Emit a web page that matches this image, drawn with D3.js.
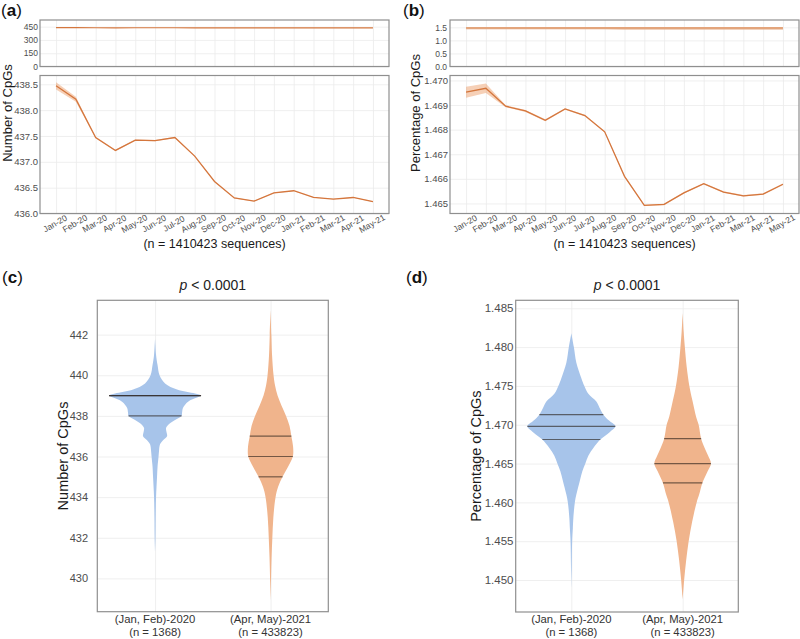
<!DOCTYPE html>
<html><head><meta charset="utf-8">
<script src="https://cdn.jsdelivr.net/npm/d3@7"></script>
<style>
body{margin:0;background:#fff;}
text{font-family:"Liberation Sans", Arial, sans-serif;}
</style>
</head><body>
<svg id="chart" width="800" height="639"></svg>
<script>
// ---------------- DATA ----------------
const months = ["Jan-20","Feb-20","Mar-20","Apr-20","May-20","Jun-20","Jul-20","Aug-20","Sep-20","Oct-20","Nov-20","Dec-20","Jan-21","Feb-21","Mar-21","Apr-21","May-21"];
const cpgCount   = [438.47,438.21,437.47,437.22,437.42,437.41,437.47,437.11,436.62,436.30,436.24,436.40,436.44,436.31,436.28,436.31,436.23];
const cpgCountCI = [0.07,0.05,0.012,0.012,0.012,0.01,0.008,0.008,0.008,0.008,0.006,0.006,0.006,0.006,0.006,0.006,0.006];
const cpgPct     = [1.46952,1.46968,1.46895,1.46876,1.46838,1.46884,1.46857,1.46791,1.46610,1.46492,1.46496,1.46543,1.46580,1.46546,1.46531,1.46538,1.46578];
const cpgPctCI   = [0.00022,0.00019,0.00004,0.00004,0.00004,0.00003,0.00003,0.00003,0.00003,0.00003,0.00003,0.00003,0.00003,0.00003,0.00003,0.00003,0.00003];

const countTopTicks = [0,150,300,450];
const countTicks    = [436.0,436.5,437.0,437.5,438.0,438.5];
const pctTopTicks   = [0.0,0.5,1.0,1.5];
const pctTicks      = [1.465,1.466,1.467,1.468,1.469,1.470];
const sampleLabel   = "(n = 1410423 sequences)";

const groups      = ["(Jan, Feb)-2020","(Apr, May)-2021"];
const groupCounts = ["(n = 1368)","(n = 433823)"];
const pValueText  = "< 0.0001";
const violinCountTicks = [430,432,434,436,438,440,442];
const violinPctTicks   = [1.450,1.455,1.460,1.465,1.470,1.475,1.480,1.485];

// violin density profiles (value, relative density)
const countEarlyValues  = [441.8,441.0,440.5,440.0,439.6,439.3,439.1,439.0,438.9,438.7,438.4,438.15,438.0,437.8,437.6,437.4,437.2,437.0,436.8,436.6,436.3,436.0,435.5,435.0,434.0,433.0,432.0,431.3];
const countEarlyDensity = [0,1.0,2.5,4.5,10,22,40,46,42,33,28,27,26.5,20,14,11,11.5,12,8,5,4,3.5,2.5,2,1,0.6,0.4,0];
const countLateValues   = [443.2,442,441,440,439.5,439,438.5,438,437.5,437,436.5,436,435.5,435,434.5,434,433,432,431,430,428.9];
const countLateDensity  = [0,0.8,1.5,3,4.5,7,11,15.5,19,20.8,22.5,22.3,17.5,12,7.5,5,2.8,1.8,1,0.5,0];
const countEarlyQuantiles = [438,439,439];
const countLateQuantiles  = [435,436,437];

const pctEarlyValues  = [1.4818,1.4800,1.4780,1.4760,1.4750,1.4740,1.4730,1.4720,1.4713,1.4705,1.4698,1.4690,1.4681,1.4670,1.4660,1.4650,1.4640,1.4628,1.4610,1.4600,1.4580,1.4567,1.4550,1.4520,1.4488];
const pctEarlyDensity = [0,2.5,5,10,13,17,25,29,32,38,44,38,29,22,17,14,11,8.5,5,3.5,2,1.5,0.8,0.4,0];
const pctLateValues   = [1.4844,1.4820,1.4800,1.4775,1.4750,1.4730,1.4710,1.4700,1.4682,1.4670,1.4660,1.4650,1.4640,1.4625,1.4610,1.4600,1.4575,1.4550,1.4525,1.4500,1.4475];
const pctLateDensity  = [0,1,2.2,4,6.7,10,13.5,16,18.5,22,25.5,28.3,25,19.7,16.5,14,9.5,6,3.5,1.5,0];
const pctEarlyQuantiles = [1.4681,1.4698,1.4713];
const pctLateQuantiles  = [1.4625,1.4650,1.4682];

// ---------------- STYLE ----------------
const lineColor = "#d4763d";
const ribbonColor = "rgba(236,150,95,0.45)";
const gridColor = "#ebebeb";
const frameColor = "#8f8f8f";
const tickColor = "#4d4d4d";
const blue = "#a7c4ea";
const orange = "#f0b48c";

const svg = d3.select("#chart");
svg.append("rect").attr("width",800).attr("height",639).attr("fill","#fff");

function frame(g, x0, x1, y0, y1) {
  g.append("rect").attr("x",x0).attr("y",y0).attr("width",x1-x0).attr("height",y1-y0)
    .attr("fill","none").attr("stroke",frameColor).attr("stroke-width",1.2);
}

function linePanel(o) {
  const g = svg.append("g");
  const x = d3.scalePoint().domain(months).range([o.x0, o.x1]).padding(0.81);
  const y = d3.scaleLinear().domain(o.domain).range([o.y1, o.y0]);
  g.append("g").attr("transform",`translate(0,${o.y1})`)
    .call(d3.axisBottom(x).tickSize(-(o.y1-o.y0)).tickFormat(""))
    .call(s=>{s.select(".domain").remove(); s.selectAll("line").attr("stroke",gridColor).attr("stroke-width",0.8);});
  g.append("g").attr("transform",`translate(${o.x0},0)`)
    .call(d3.axisLeft(y).tickValues(o.ticks).tickSize(-(o.x1-o.x0)).tickFormat(""))
    .call(s=>{s.select(".domain").remove(); s.selectAll("line").attr("stroke",gridColor).attr("stroke-width",0.8);});
  g.append("g").attr("transform",`translate(${o.x0},0)`)
    .call(d3.axisLeft(y).tickValues(o.ticks).tickFormat(o.fmt).tickSize(0).tickPadding(o.pad))
    .call(s=>{s.select(".domain").remove(); s.selectAll("text").attr("fill",tickColor).attr("font-size",o.fs).attr("font-family","Liberation Sans, Arial, sans-serif");});
  const pts = months.map((m,i)=>({m, v:o.values[i], c:o.ci ? o.ci[i] : 0}));
  if (o.ci) {
    g.append("path").datum(pts).attr("fill",ribbonColor)
      .attr("d", d3.area().x(d=>x(d.m)).y0(d=>y(d.v-d.c)).y1(d=>y(d.v+d.c)));
  }
  g.append("path").datum(pts).attr("fill","none").attr("stroke",o.stroke||lineColor).attr("stroke-width",o.sw||1.3)
    .attr("d", d3.line().x(d=>x(d.m)).y(d=>y(d.v)));
  frame(g, o.x0, o.x1, o.y0, o.y1);
  if (o.showX) {
    g.append("g").selectAll("text").data(months).join("text")
      .attr("transform", d=>`translate(${x(d)-1},${o.y1+10}) rotate(-30)`)
      .attr("text-anchor","middle").attr("dominant-baseline","central")
      .attr("font-size",8.5).attr("fill",tickColor).text(d=>d);
    g.append("text").attr("x",(o.x0+o.x1)/2).attr("y",o.y1+34).attr("text-anchor","middle")
      .attr("font-size",12.5).attr("fill","#1a1a1a").text(sampleLabel);
  }
}

linePanel({x0:40,x1:389,y0:20,y1:66.5,domain:[0,525],ticks:countTopTicks,fmt:d3.format("d"),values:cpgCount,fs:8.5,pad:2,sw:1.2});
linePanel({x0:40,x1:389,y0:75.5,y1:213.5,domain:[436.0,438.67],ticks:countTicks,fmt:d3.format(".1f"),values:cpgCount,ci:cpgCountCI,fs:9.5,pad:2,showX:true});
linePanel({x0:450,x1:799,y0:20,y1:66.5,domain:[0,1.78],ticks:pctTopTicks,fmt:d3.format(".1f"),values:cpgPct,fs:8.5,pad:3,sw:2.4,stroke:"#e3a57c"});
linePanel({x0:450,x1:799,y0:75.5,y1:213.5,domain:[1.46459,1.4702],ticks:pctTicks,fmt:d3.format(".3f"),values:cpgPct,ci:cpgPctCI,fs:9.5,pad:2,showX:true});

svg.append("text").attr("transform","translate(11.5,113) rotate(-90)").attr("text-anchor","middle")
  .attr("font-size",13).attr("fill","#1a1a1a").text("Number of CpGs");
svg.append("text").attr("transform","translate(420,113) rotate(-90)").attr("text-anchor","middle")
  .attr("font-size",13).attr("fill","#1a1a1a").text("Percentage of CpGs");

function letter(x,y,l){
  const t = svg.append("text").attr("x",x).attr("y",y).attr("font-size",17).attr("fill","#111");
  t.append("tspan").text("(");
  t.append("tspan").attr("font-weight","bold").text(l);
  t.append("tspan").text(")");
}
letter(1,16,"a"); letter(403,16,"b"); letter(2,283,"c"); letter(406,283,"d");

// ---------------- VIOLINS ----------------
function violinPanel(o) {
  const g = svg.append("g");
  const x = d3.scalePoint().domain(groups).range([o.x0,o.x1]).padding(0.5);
  const y = d3.scaleLinear().domain(o.domain).range([o.y1,o.y0]);
  const w = d3.scaleLinear().domain([0,o.maxDensity]).range([0,o.maxHalf]);
  g.append("g").attr("transform",`translate(0,${o.y1})`)
    .call(d3.axisBottom(x).tickSize(-(o.y1-o.y0)).tickFormat(""))
    .call(s=>{s.select(".domain").remove(); s.selectAll("line").attr("stroke",gridColor).attr("stroke-width",0.8);});
  g.append("g").attr("transform",`translate(${o.x0},0)`)
    .call(d3.axisLeft(y).tickValues(o.ticks).tickSize(-(o.x1-o.x0)).tickFormat(""))
    .call(s=>{s.select(".domain").remove(); s.selectAll("line").attr("stroke",gridColor).attr("stroke-width",0.8);});
  g.append("g").attr("transform",`translate(${o.labelX},0)`)
    .call(d3.axisLeft(y).tickValues(o.ticks).tickFormat(o.fmt).tickSize(0).tickPadding(0))
    .call(s=>{s.select(".domain").remove(); s.selectAll("text").attr("fill",tickColor).attr("font-size",o.tfs).attr("font-family","Liberation Sans, Arial, sans-serif");});
  o.violins.forEach((vi,k)=>{
    const cx = x(groups[k]);
    const pts = vi.values.map((v,i)=>({v, d:vi.density[i]}));
    g.append("path").datum(pts).attr("fill",vi.color)
      .attr("d", d3.area().curve(d3.curveCatmullRom).y(d=>y(d.v)).x0(d=>cx-w(d.d)).x1(d=>cx+w(d.d)));
    const asc = pts.slice().sort((a,b)=>a.v-b.v);
    const interp = q => {
      for (let i=0;i<asc.length-1;i++){
        if (q>=asc[i].v && q<=asc[i+1].v){
          const t=(q-asc[i].v)/(asc[i+1].v-asc[i].v);
          return asc[i].d + t*(asc[i+1].d-asc[i].d);
        }
      }
      return 0;
    };
    vi.quantiles.forEach(q=>{
      const hw = w(interp(q));
      g.append("line").attr("x1",cx-hw).attr("x2",cx+hw).attr("y1",y(q)).attr("y2",y(q))
        .attr("stroke","rgba(40,30,25,0.62)").attr("stroke-width",1.2);
    });
    g.append("text").attr("x",cx).attr("y",o.y1+10.8).attr("text-anchor","middle")
      .attr("font-size",11.3).attr("fill","#333").text(groups[k]);
    g.append("text").attr("x",cx).attr("y",o.y1+23.8).attr("text-anchor","middle")
      .attr("font-size",11.3).attr("fill","#333").text(groupCounts[k]);
  });
  frame(g, o.x0, o.x1, o.y0, o.y1);
  const pt = g.append("text").attr("x",(o.x0+o.x1)/2).attr("y",290).attr("text-anchor","middle")
    .attr("font-size",14).attr("font-family","DejaVu Sans, sans-serif").attr("fill","#222");
  pt.append("tspan").attr("font-style","italic").text("p");
  pt.append("tspan").text(" " + pValueText);
  svg.append("text").attr("transform",`translate(${o.titleX},${(o.y0+o.y1)/2}) rotate(-90)`)
    .attr("text-anchor","middle").attr("font-size",14.5).attr("fill","#1a1a1a").text(o.title);
}

violinPanel({x0:97.3,x1:328.3,y0:300.3,y1:611.7,domain:[428.36,443.69],ticks:violinCountTicks,fmt:d3.format("d"),
  labelX:88,tfs:11,maxDensity:46,maxHalf:46,titleX:68,title:"Number of CpGs",
  violins:[{values:countEarlyValues,density:countEarlyDensity,quantiles:countEarlyQuantiles,color:blue},
           {values:countLateValues,density:countLateDensity,quantiles:countLateQuantiles,color:orange}]});
violinPanel({x0:515.7,x1:738.3,y0:300.3,y1:612,domain:[1.44588,1.48603],ticks:violinPctTicks,fmt:d3.format(".3f"),
  labelX:513.5,tfs:11.5,maxDensity:44,maxHalf:44,titleX:481,title:"Percentage of CpGs",
  violins:[{values:pctEarlyValues,density:pctEarlyDensity,quantiles:pctEarlyQuantiles,color:blue},
           {values:pctLateValues,density:pctLateDensity,quantiles:pctLateQuantiles,color:orange}]});
</script>
</body></html>
